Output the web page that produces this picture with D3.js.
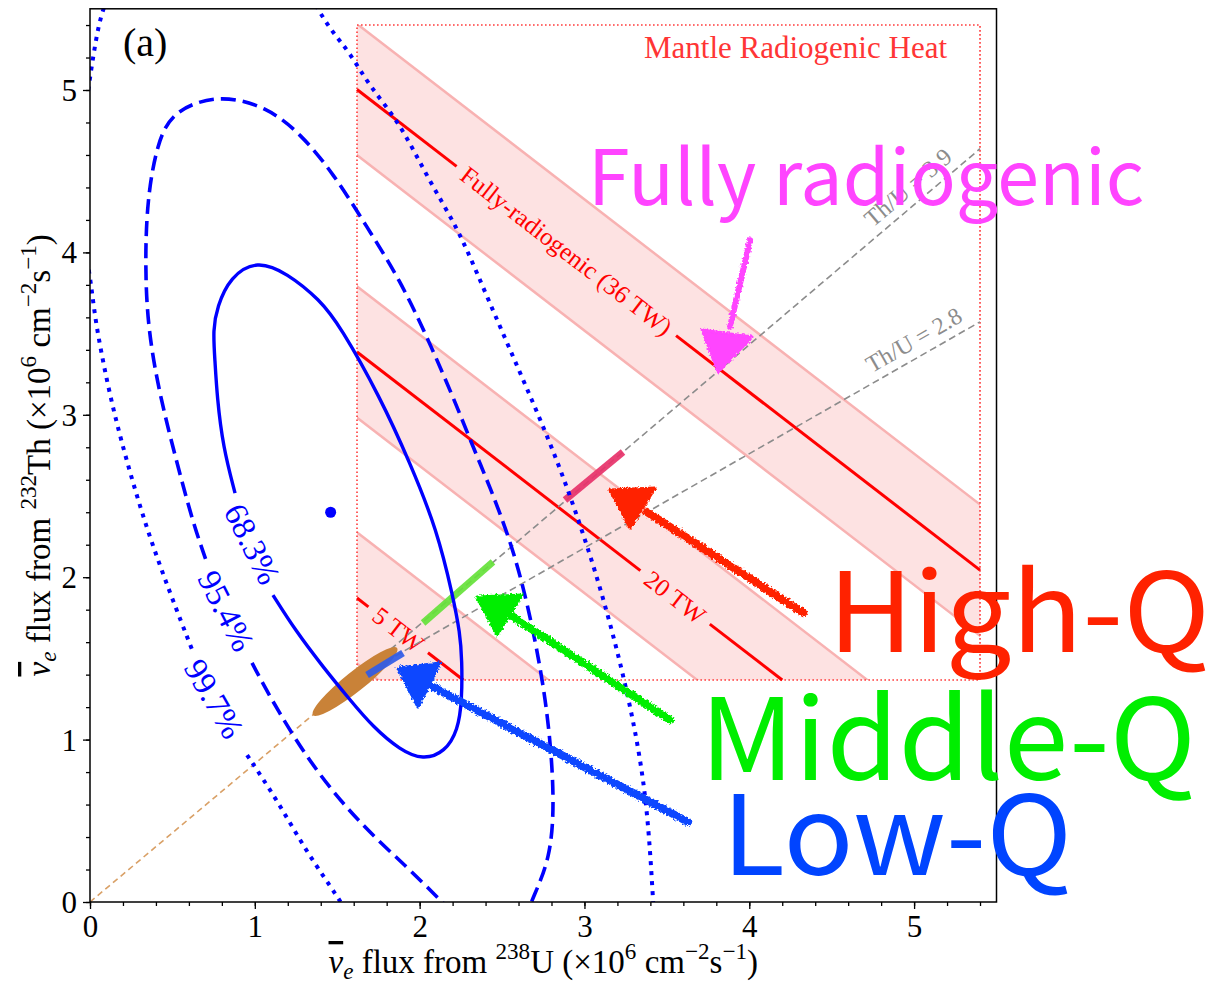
<!DOCTYPE html>
<html>
<head>
<meta charset="utf-8">
<script src="https://cdn.jsdelivr.net/npm/d3@7"></script>
<style>
  body { margin: 0; background: #fff; }
  svg { display: block; }
</style>
</head>
<body>
<svg id="chart" width="1209" height="988"></svg>
<script>
// ---------- axes ----------
const xTicks = [0, 1, 2, 3, 4, 5];
const yTicks = [0, 1, 2, 3, 4, 5];
const minorTicks = d3.range(0, 5.45, 0.2);

// ---------- best fit and confidence contours (U flux, Th flux) ----------
const bestFit = [1.46, 2.40];

const contour683 = [
  [1.110,1.890],[1.244,1.675],[1.414,1.447],[1.578,1.244],[1.717,1.078],[1.881,0.936],
  [2.021,0.874],[2.154,0.924],[2.233,1.059],[2.257,1.244],[2.257,1.490],[2.245,1.656],
  [2.203,1.878],[2.106,2.291],[1.942,2.703],[1.760,3.110],[1.517,3.547],[1.396,3.707],
  [1.195,3.873],[1.013,3.953],[0.850,3.849],[0.771,3.664],[0.746,3.522],[0.758,3.337],
  [0.771,3.110],[0.807,2.802],[0.880,2.518]
];

const contour954 = [
  [[0.983,1.472],[1.135,1.182],[1.377,0.794],[1.657,0.462],[1.924,0.216],[2.124,0.012],[2.257,-0.123]],
  [[2.633,-0.123],[2.688,0.031],[2.791,0.259],[2.822,0.628],[2.773,1.244],[2.652,1.860],
   [2.549,2.229],[2.427,2.555],[2.324,2.802],[2.203,3.110],[2.045,3.479],[1.881,3.830],
   [1.681,4.156],[1.475,4.489],[1.274,4.735],[1.074,4.895],[0.789,4.975],[0.504,4.877],
   [0.407,4.674],[0.346,4.323],[0.334,3.910],[0.352,3.522],[0.425,3.110],[0.528,2.703],
   [0.625,2.334],[0.710,2.087]]
];

const contour997 = [
  [[0.152,5.677],[0.079,5.505],[0.042,5.351],[0.0,5.080],[-0.036,4.815]],
  [[-0.036,4.076],[0.0,3.848],[0.018,3.707],[0.042,3.522],[0.121,3.110],[0.225,2.703],
   [0.346,2.291],[0.485,1.903],[0.625,1.539]],
  [[0.953,0.905],[1.135,0.628],[1.317,0.302],[1.517,0.012],[1.566,-0.080]],
  [[3.422,-0.080],[3.416,0.012],[3.380,0.628],[3.295,1.139],[3.174,1.656],[3.034,2.149],
   [2.852,2.679],[2.682,3.091],[2.488,3.541],[2.348,3.873],[2.227,4.156],[2.045,4.464],
   [1.881,4.797],[1.699,5.018],[1.578,5.228],[1.475,5.351],[1.396,5.474],[1.335,5.585]]
];

const contourNames = ["68.3%", "95.4%", "99.7%"];
const contourNameAt = [[0.983, 2.204], [0.825, 1.792], [0.752, 1.250]];

// ---------- crust contribution and mantle region ----------
const crustPoint = [1.62, 1.38];          // end of crust estimate on the Th/U line
const mantleLow = [1.62, 1.367];          // lower-left corner of mantle region
const mantleHigh = [5.40, 5.40];          // upper-right corner of mantle region
const crustEllipseEnds = [[1.353, 1.151], [1.863, 1.564]];

// Th/U ratio lines starting at the crust point (slope = Th flux / U flux)
const thuNames = ["Th/U = 3.9", "Th/U = 2.8"];
const thuSlopes = [0.862, 0.580];
const thuNameU = [5.03, 5.05];

// mantle radiogenic heat (TW) and flux per TW
const heatLevels = [5, 20, 36];
const heatNames = ["5 TW", "20 TW", "Fully-radiogenic (36 TW)"];
const heatNameU = [1.87, 3.55, 2.89];
const heatBands = [[1, 9], [16, 24], [32, 40]];
const thPerTW = 0.101;
const uPerTW = 0.129;

// model segments along the Th/U line: low-Q, middle-Q, high-Q
const modelSegments = [
  [[1.681, 1.398], [1.899, 1.533]],
  [[2.021, 1.718], [2.445, 2.094]],
  [[2.882, 2.475], [3.234, 2.771]]
];

// hand-drawn arrows: tail, neck and head triangle
const arrowTails = [[4.005, 4.076], [4.327, 1.780], [3.519, 1.121], [3.629, 0.493]];
const arrowNecks = [[3.883, 3.541], [3.380, 2.401], [2.567, 1.755], [2.081, 1.324]];
const arrowHeads = [
  [[3.714, 3.522], [4.017, 3.479], [3.811, 3.264]],
  [[3.155, 2.537], [3.428, 2.549], [3.277, 2.303]],
  [[2.348, 1.878], [2.621, 1.890], [2.470, 1.644]],
  [[1.869, 1.441], [2.124, 1.472], [1.990, 1.201]]
];

// model names
const modelNames = ["Fully radiogenic", "High-Q", "Middle-Q", "Low-Q"];
const modelNameAt = [[3.022, 4.292], [4.478, 1.539], [3.701, 0.751], [3.835, 0.166]];

// ---------- drawing ----------
const W = 1209, H = 988;
const svg = d3.select("#chart");
const x = d3.scaleLinear().domain([0, 5.5]).range([90, 996.5]);
const y = d3.scaleLinear().domain([0, 5.5]).range([902, 8.8]);
const P = d => [x(d[0]), y(d[1])];

const serif = '"Liberation Serif", "Times New Roman", serif';
const sans = '"Noto Sans CJK JP", "Noto Sans", sans-serif';

const defs = svg.append("defs");
defs.append("clipPath").attr("id", "plotClip").append("rect")
  .attr("x", x(0)).attr("y", y(5.5)).attr("width", x(5.5) - x(0)).attr("height", y(0) - y(5.5));
defs.append("clipPath").attr("id", "boxClip").append("rect")
  .attr("x", x(mantleLow[0])).attr("y", y(mantleHigh[1]))
  .attr("width", x(mantleHigh[0]) - x(mantleLow[0]))
  .attr("height", y(mantleLow[1]) - y(mantleHigh[1]));

const rough = defs.append("filter").attr("id", "rough")
  .attr("filterUnits", "userSpaceOnUse").attr("x", 0).attr("y", 0).attr("width", W).attr("height", H);
rough.append("feTurbulence").attr("type", "fractalNoise").attr("baseFrequency", 0.45)
  .attr("numOctaves", 2).attr("seed", 7).attr("result", "noise");
rough.append("feDisplacementMap").attr("in", "SourceGraphic").attr("in2", "noise")
  .attr("scale", 5).attr("xChannelSelector", "R").attr("yChannelSelector", "G");

const plot = svg.append("g").attr("clip-path", "url(#plotClip)");

// heat bands and lines inside the mantle box
const box = plot.append("g").attr("clip-path", "url(#boxClip)");
const thSlope = thPerTW / uPerTW;
const thOnHeat = (q, u) => mantleLow[1] + thPerTW * q - thSlope * (u - mantleLow[0]);

heatBands.forEach(([q1, q2]) => {
  const u0 = mantleLow[0] - 1, u1 = mantleHigh[0] + 3;
  const poly = [[u0, thOnHeat(q2, u0)], [u1, thOnHeat(q2, u1)], [u1, thOnHeat(q1, u1)], [u0, thOnHeat(q1, u0)]];
  box.append("path").attr("d", d3.line()(poly.map(P)) + "Z").attr("fill", "#fde2e2");
  [q1, q2].forEach(q => {
    box.append("line")
      .attr("x1", x(u0)).attr("y1", y(thOnHeat(q, u0)))
      .attr("x2", x(u1)).attr("y2", y(thOnHeat(q, u1)))
      .attr("stroke", "#f8b2b2").attr("stroke-width", 2.5);
  });
});

// mantle box outline
plot.append("rect")
  .attr("x", x(mantleLow[0])).attr("y", y(mantleHigh[1]))
  .attr("width", x(mantleHigh[0]) - x(mantleLow[0]))
  .attr("height", y(mantleLow[1]) - y(mantleHigh[1]))
  .attr("fill", "none").attr("stroke", "#ff3a3a").attr("stroke-width", 1.6)
  .attr("stroke-dasharray", "1.6,2.4");

plot.append("text")
  .attr("x", x(mantleHigh[0]) - 33).attr("y", y(mantleHigh[1]) + 33)
  .attr("text-anchor", "end").attr("font-family", serif).attr("font-size", 31)
  .attr("fill", "#ff3535").text("Mantle Radiogenic Heat");

// red heat lines with labels set inline
const heatAngle = Math.atan2(y(1) - y(1 + thSlope), x(1) - x(0)) * 180 / Math.PI;
heatLevels.forEach((q, i) => {
  const uStart = mantleLow[0];
  const uEnd = Math.min(mantleLow[0] + uPerTW * q, mantleHigh[0]);
  const a = P([uStart, thOnHeat(q, uStart)]);
  const b = P([uEnd, thOnHeat(q, uEnd)]);
  const c = P([heatNameU[i], thOnHeat(q, heatNameU[i])]);
  const len = Math.hypot(b[0] - a[0], b[1] - a[1]);
  const d = [(b[0] - a[0]) / len, (b[1] - a[1]) / len];
  const t = plot.append("text")
    .attr("transform", `translate(${c[0]},${c[1]}) rotate(${heatAngle})`)
    .attr("text-anchor", "middle").attr("dominant-baseline", "central")
    .attr("font-family", serif).attr("font-size", 25).attr("fill", "#ff0000")
    .text(heatNames[i]);
  const gap = t.node().getComputedTextLength() / 2 + 9;
  const s1 = [c[0] - gap * d[0], c[1] - gap * d[1]];
  const s2 = [c[0] + gap * d[0], c[1] + gap * d[1]];
  const seg = (p, r) => plot.append("line").attr("x1", p[0]).attr("y1", p[1]).attr("x2", r[0]).attr("y2", r[1])
    .attr("stroke", "#ff0000").attr("stroke-width", 3);
  if ((s1[0] - a[0]) > 0) seg(a, s1);
  if ((b[0] - s2[0]) > 0) seg(s2, b);
});

// brown crust line from origin
plot.append("line")
  .attr("x1", x(0)).attr("y1", y(0)).attr("x2", x(crustPoint[0])).attr("y2", y(crustPoint[1]))
  .attr("stroke", "#d9a066").attr("stroke-width", 1.6).attr("stroke-dasharray", "6,4");

// Th/U lines
thuSlopes.forEach((k, i) => {
  const uEnd = mantleHigh[0];
  const p0 = P(crustPoint), p1 = P([uEnd, crustPoint[1] + k * (uEnd - crustPoint[0])]);
  plot.append("line").attr("x1", p0[0]).attr("y1", p0[1]).attr("x2", p1[0]).attr("y2", p1[1])
    .attr("stroke", "#8c8c8c").attr("stroke-width", 1.6).attr("stroke-dasharray", "7,4");
  const uc = thuNameU[i];
  const c = P([uc, crustPoint[1] + k * (uc - crustPoint[0])]);
  const ang = Math.atan2(p1[1] - p0[1], p1[0] - p0[0]) * 180 / Math.PI;
  plot.append("text")
    .attr("transform", `translate(${c[0]},${c[1]}) rotate(${ang}) translate(0,-9)`)
    .attr("text-anchor", "middle").attr("font-family", serif).attr("font-size", 24)
    .attr("fill", "#8c8c8c").text(thuNames[i]);
});

// crust ellipse
{
  const e0 = P(crustEllipseEnds[0]), e1 = P(crustEllipseEnds[1]);
  const cx = (e0[0] + e1[0]) / 2, cy = (e0[1] + e1[1]) / 2;
  const rx = Math.hypot(e1[0] - e0[0], e1[1] - e0[1]) / 2;
  const ang = Math.atan2(e1[1] - e0[1], e1[0] - e0[0]) * 180 / Math.PI;
  plot.append("ellipse").attr("cx", cx).attr("cy", cy).attr("rx", rx).attr("ry", 10)
    .attr("transform", `rotate(${ang},${cx},${cy})`).attr("fill", "#c98238");
}

// model segments on the Th/U line
const segColors = ["#2f5ce8", "#66e23a", "#e8336b"];
modelSegments.forEach((s, i) => {
  const a = P(s[0]), b = P(s[1]);
  plot.append("line").attr("x1", a[0]).attr("y1", a[1]).attr("x2", b[0]).attr("y2", b[1])
    .attr("stroke", segColors[i]).attr("stroke-width", 7).attr("opacity", 0.92);
});

// confidence contours
const curve = d3.line().x(d => x(d[0])).y(d => y(d[1])).curve(d3.curveBasis);
const blue = "#0000ff";
plot.append("path").attr("d", curve(contour683)).attr("fill", "none")
  .attr("stroke", blue).attr("stroke-width", 3.4);
contour954.forEach(seg => plot.append("path").attr("d", curve(seg)).attr("fill", "none")
  .attr("stroke", blue).attr("stroke-width", 3.6).attr("stroke-dasharray", "15,7"));
contour997.forEach(seg => plot.append("path").attr("d", curve(seg)).attr("fill", "none")
  .attr("stroke", blue).attr("stroke-width", 4).attr("stroke-dasharray", "4,6"));

const contourAngles = [63.4, 62.9, 60];
contourNames.forEach((n, i) => {
  const c = P(contourNameAt[i]);
  plot.append("text")
    .attr("transform", `translate(${c[0]},${c[1]}) rotate(${contourAngles[i]})`)
    .attr("text-anchor", "middle").attr("dominant-baseline", "central")
    .attr("font-family", serif).attr("font-size", 33).attr("fill", blue).text(n);
});

plot.append("circle").attr("cx", x(bestFit[0])).attr("cy", y(bestFit[1])).attr("r", 5.5).attr("fill", blue);

// arrows
const arrowColors = ["#ff44ff", "#ff2200", "#00ee00", "#0a47ff"];
const arrowWidths = [6, 8, 8, 8];
arrowTails.forEach((tail, i) => {
  const g = svg.append("g").attr("filter", "url(#rough)");
  const a = P(tail), b = P(arrowNecks[i]);
  g.append("line").attr("x1", a[0]).attr("y1", a[1]).attr("x2", b[0]).attr("y2", b[1])
    .attr("stroke", arrowColors[i]).attr("stroke-width", arrowWidths[i]).attr("stroke-linecap", "round");
  g.append("path").attr("d", d3.line()(arrowHeads[i].map(P)) + "Z")
    .attr("fill", arrowColors[i]).attr("stroke", arrowColors[i]).attr("stroke-width", 3)
    .attr("stroke-linejoin", "round");
});

// frame, ticks and labels
svg.append("rect").attr("x", x(0)).attr("y", y(5.5)).attr("width", x(5.5) - x(0)).attr("height", y(0) - y(5.5))
  .attr("fill", "none").attr("stroke", "#000").attr("stroke-width", 1.5);

const xAxis = svg.append("g").attr("transform", `translate(0,${y(0)})`)
  .call(d3.axisBottom(x).tickValues(xTicks).tickFormat(d3.format("d")).tickSize(7).tickPadding(6));
svg.append("g").attr("transform", `translate(0,${y(0)})`)
  .call(d3.axisBottom(x).tickValues(minorTicks).tickFormat("").tickSize(4));
const yAxis = svg.append("g").attr("transform", `translate(${x(0)},0)`)
  .call(d3.axisLeft(y).tickValues(yTicks).tickFormat(d3.format("d")).tickSize(7).tickPadding(6));
svg.append("g").attr("transform", `translate(${x(0)},0)`)
  .call(d3.axisLeft(y).tickValues(minorTicks).tickFormat("").tickSize(4));
svg.selectAll(".domain").remove();
svg.selectAll(".tick line").attr("stroke", "#000").attr("stroke-width", 1.3);
[xAxis, yAxis].forEach(ax => ax.selectAll("text").attr("font-family", serif).attr("font-size", 31).attr("fill", "#000"));
yAxis.selectAll("text").attr("dy", "0.34em");

function richText(sel, parts, fs) {
  let shift = 0;
  parts.forEach(p => {
    const target = p.sup ? -0.42 * fs : p.sub ? 0.18 * fs : 0;
    const ts = sel.append("tspan").text(p.t).attr("dy", target - shift);
    shift = target;
    if (p.sup || p.sub) ts.attr("font-size", fs * 0.7);
    if (p.it) ts.attr("font-style", "italic");
    if (p.bar) ts.attr("text-decoration", "overline");
  });
}
const titleSize = 33;
const xTitle = svg.append("text").attr("x", (x(0) + x(5.5)) / 2).attr("y", 973)
  .attr("text-anchor", "middle").attr("font-family", serif).attr("font-size", titleSize);
richText(xTitle, [
  { t: "ν", it: true, bar: true }, { t: "e", sub: true, it: true }, { t: " flux from " },
  { t: "238", sup: true }, { t: "U (×10" }, { t: "6", sup: true }, { t: " cm" },
  { t: "−2", sup: true }, { t: "s" }, { t: "−1", sup: true }, { t: ")" }
], titleSize);

const yTitle = svg.append("text")
  .attr("transform", `translate(50,${(y(0) + y(5.5)) / 2}) rotate(-90)`)
  .attr("text-anchor", "middle").attr("font-family", serif).attr("font-size", titleSize);
richText(yTitle, [
  { t: "ν", it: true, bar: true }, { t: "e", sub: true, it: true }, { t: " flux from " },
  { t: "232", sup: true }, { t: "Th (×10" }, { t: "6", sup: true }, { t: " cm" },
  { t: "−2", sup: true }, { t: "s" }, { t: "−1", sup: true }, { t: ")" }
], titleSize);

svg.append("text").attr("x", x(0) + 33).attr("y", y(5.5) + 47)
  .attr("font-family", serif).attr("font-size", 40).attr("fill", "#000").text("(a)");

// large model names
const nameColors = ["#ff44ff", "#ff2200", "#00ee00", "#0044ff"];
const nameSizes = [76, 110, 113, 110];
const nameWidths = [556, 382, 496, 350];
modelNames.forEach((n, i) => {
  const p = P(modelNameAt[i]);
  svg.append("text").attr("x", p[0]).attr("y", p[1])
    .attr("font-family", sans).attr("font-size", nameSizes[i]).attr("fill", nameColors[i])
    .attr("textLength", nameWidths[i]).attr("lengthAdjust", "spacingAndGlyphs")
    .text(n);
});
</script>
</body>
</html>
